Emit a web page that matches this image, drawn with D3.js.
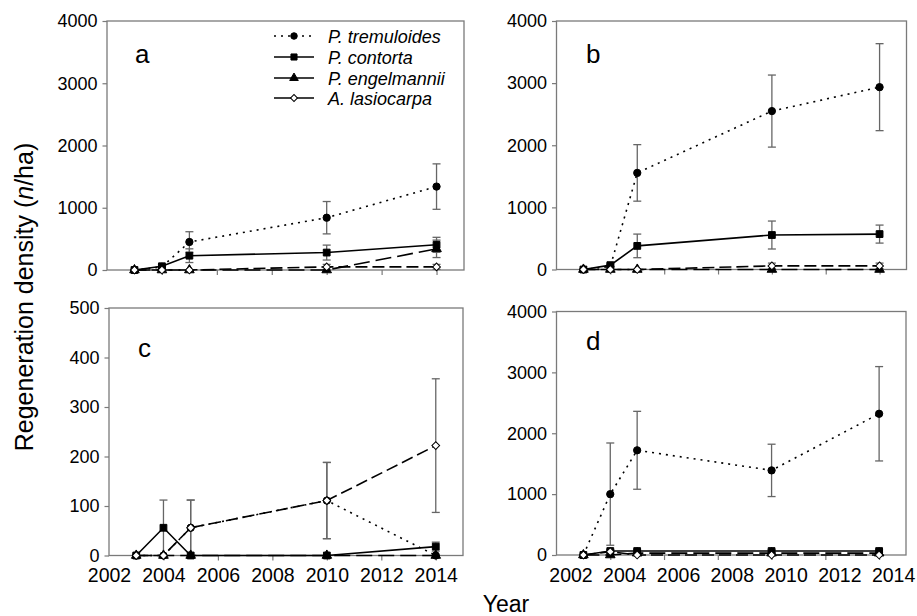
<!DOCTYPE html>
<html>
<head>
<meta charset="utf-8">
<script src="https://d3js.org/d3.v7.min.js"></script>
<style>
  body { margin: 0; background: #fff; }
  text { font-family: "Liberation Sans", Arial, sans-serif; fill: #000; }
</style>
</head>
<body>
<svg id="chart" width="917" height="616"></svg>
<script>
// sampling years and axis ticks
const years = [2003, 2004, 2005, 2010, 2014];
const species = ["P. tremuloides", "P. contorta", "P. engelmannii", "A. lasiocarpa"];
const xTicks = [2002, 2004, 2006, 2008, 2010, 2012, 2014];
const yTicksBig = [0, 1000, 2000, 3000, 4000];
const yTicksSmall = [0, 100, 200, 300, 400, 500];

// panel a: means and standard errors, one row per species
const aMeans = [
  [0, 50, 450, 840, 1340],
  [0, 60, 230, 280, 405],
  [0, 0, 0, 0, 340],
  [0, 0, 0, 50, 50]
];
const aErrors = [
  [0, 30, 165, 260, 365],
  [0, 30, 110, 120, 120],
  [0, 0, 0, 0, 140],
  [0, 0, 0, 40, 40]
];

// panel b
const bMeans = [
  [0, 50, 1555, 2550, 2935],
  [0, 70, 380, 555, 570],
  [0, 0, 0, 0, 0],
  [0, 0, 0, 58, 58]
];
const bErrors = [
  [0, 30, 455, 580, 700],
  [0, 30, 190, 225, 145],
  [0, 0, 0, 0, 0],
  [0, 0, 0, 45, 45]
];

// panel c
const cMeans = [
  [0, 0, 56, 111, 0],
  [0, 56, 0, 0, 18],
  [0, 0, 0, 0, 0],
  [0, 0, 56, 111, 222]
];
const cErrors = [
  [0, 0, 56, 77, 0],
  [0, 56, 0, 0, 9],
  [0, 0, 0, 0, 0],
  [0, 0, 56, 77, 135]
];

// panel d
const dMeans = [
  [0, 1000, 1720, 1390, 2320],
  [0, 65, 65, 65, 65],
  [0, 0, 30, 30, 30],
  [0, 55, 0, 0, 0]
];
const dErrors = [
  [0, 840, 640, 430, 775],
  [0, 20, 20, 20, 20],
  [0, 0, 0, 0, 0],
  [0, 30, 0, 0, 0]
];

const styles = [
  { dash: "2,5", sym: d3.symbolCircle, size: 42, fill: "#000", rot: 0 },
  { dash: null, sym: d3.symbolSquare, size: 46, fill: "#000", rot: 0 },
  { dash: "16,6", sym: d3.symbolTriangle, size: 40, fill: "#000", rot: 0 },
  { dash: "12,5", sym: d3.symbolSquare, size: 30, fill: "#fff", rot: 45 }
];

const panels = [
  { letter: "a", means: aMeans, errors: aErrors, left: 107, right: 464, top: 21, bottom: 270,
    yTicks: yTicksBig, labels: false, shift: 0, lx: 135, ly: 63 },
  { letter: "b", means: bMeans, errors: bErrors, left: 556.5, right: 906.5, top: 21, bottom: 269.5,
    yTicks: yTicksBig, labels: false, shift: 0, lx: 586, ly: 63 },
  { letter: "c", means: cMeans, errors: cErrors, left: 109, right: 463, top: 308, bottom: 555.5,
    yTicks: yTicksSmall, labels: true, shift: 0, lx: 138, ly: 357 },
  { letter: "d", means: dMeans, errors: dErrors, left: 556.5, right: 906, top: 311.5, bottom: 555,
    yTicks: yTicksBig, labels: true, shift: 14, lx: 586, ly: 350 }
];

const svg = d3.select("#chart");
const frameColor = "#7a7a7a";
const errColor = "#666";

panels.forEach(p => {
  const x = d3.scaleLinear().domain([2002, 2015]).range([p.left, p.right]);
  const y = d3.scaleLinear().domain([0, d3.max(p.yTicks)]).range([p.bottom, p.top]);
  const g = svg.append("g");

  // x axis
  const xa = g.append("g")
    .attr("transform", `translate(0,${p.bottom})`)
    .call(d3.axisBottom(x).tickValues(xTicks).tickSize(5).tickSizeOuter(0)
      .tickFormat(p.labels ? d3.format("d") : ""));
  xa.select(".domain").remove();
  xa.selectAll(".tick line").attr("stroke", frameColor).attr("stroke-width", 1.2);
  xa.selectAll(".tick text").attr("font-size", 19.5).attr("dy", "0.95em").attr("dx", p.shift)
    .attr("fill", "#000")
    .style("font-family", '"Liberation Sans", Arial, sans-serif');
  xa.selectAll(".tick").filter(d => d === 2002).select("line").remove();

  // y axis
  const ya = g.append("g")
    .attr("transform", `translate(${p.left},0)`)
    .call(d3.axisLeft(y).tickValues(p.yTicks).tickSize(4.5).tickSizeOuter(0).tickPadding(5)
      .tickFormat(d3.format("d")));
  ya.select(".domain").remove();
  ya.selectAll(".tick line").attr("stroke", frameColor).attr("stroke-width", 1.2);
  ya.selectAll(".tick text").attr("font-size", 18).attr("fill", "#000")
    .style("font-family", '"Liberation Sans", Arial, sans-serif');

  // frame
  g.append("rect")
    .attr("x", p.left).attr("y", p.top)
    .attr("width", p.right - p.left).attr("height", p.bottom - p.top)
    .attr("fill", "none").attr("stroke", frameColor).attr("stroke-width", 1.3);

  // error bars
  p.means.forEach((row, si) => {
    row.forEach((v, i) => {
      const e = p.errors[si][i];
      if (!e) return;
      const cx = x(years[i]);
      const top = y(Math.min(v + e, d3.max(p.yTicks)));
      const bot = y(Math.max(v - e, 0));
      g.append("line").attr("x1", cx).attr("x2", cx).attr("y1", top).attr("y2", bot)
        .attr("stroke", errColor).attr("stroke-width", 1.3);
      g.append("line").attr("x1", cx - 4).attr("x2", cx + 4).attr("y1", top).attr("y2", top)
        .attr("stroke", errColor).attr("stroke-width", 1.3);
      if (v - e > 0) {
        g.append("line").attr("x1", cx - 4).attr("x2", cx + 4).attr("y1", bot).attr("y2", bot)
          .attr("stroke", errColor).attr("stroke-width", 1.3);
      }
    });
  });

  // lines
  const line = d3.line().x((d, i) => x(years[i])).y(d => y(d));
  p.means.forEach((row, si) => {
    g.append("path").attr("d", line(row))
      .attr("fill", "none").attr("stroke", "#000").attr("stroke-width", 1.6)
      .attr("stroke-dasharray", styles[si].dash);
  });

  // markers
  p.means.forEach((row, si) => {
    const s = styles[si];
    g.selectAll(null).data(row).enter().append("path")
      .attr("d", d3.symbol().type(s.sym).size(s.size))
      .attr("transform", (d, i) => `translate(${x(years[i])},${y(d)}) rotate(${s.rot})`)
      .attr("fill", s.fill).attr("stroke", "#000").attr("stroke-width", 1);
  });

  // panel letter
  g.append("text").attr("x", p.lx).attr("y", p.ly)
    .attr("font-size", 26).text(p.letter);
});

// legend (in panel a)
const legRows = [36, 57, 78, 98];
const leg = svg.append("g");
species.forEach((name, si) => {
  const s = styles[si];
  const ly = legRows[si];
  leg.append("line").attr("x1", 274).attr("x2", 314).attr("y1", ly).attr("y2", ly)
    .attr("stroke", "#000").attr("stroke-width", 1.6)
    .attr("stroke-dasharray", si === 0 ? "2,5" : null);
  leg.append("path")
    .attr("d", d3.symbol().type(s.sym).size(s.size * 0.8))
    .attr("transform", `translate(294,${ly}) rotate(${s.rot})`)
    .attr("fill", s.fill).attr("stroke", "#000").attr("stroke-width", 1);
  leg.append("text").attr("x", 328).attr("y", ly + 6.5)
    .attr("font-size", 18).attr("font-style", "italic").text(name);
});

// axis titles
const yTitle = svg.append("text")
  .attr("transform", "translate(33,297) rotate(-90)")
  .attr("text-anchor", "middle").attr("font-size", 25);
yTitle.append("tspan").text("Regeneration density (");
yTitle.append("tspan").attr("font-style", "italic").text("n");
yTitle.append("tspan").text("/ha)");

svg.append("text").attr("x", 506).attr("y", 612)
  .attr("text-anchor", "middle").attr("font-size", 23).text("Year");
</script>
</body>
</html>
